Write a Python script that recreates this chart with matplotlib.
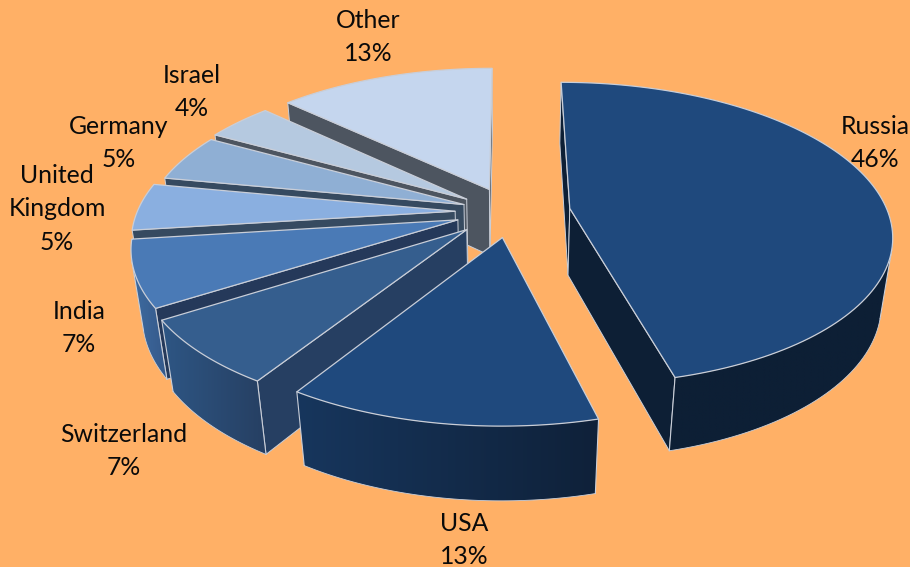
import numpy as np
import matplotlib
matplotlib.use("Agg")
import matplotlib.pyplot as plt
from matplotlib.colors import to_rgb
from matplotlib.patches import Polygon

# Share of the total per country, clockwise from twelve o'clock
countries = ["Russia", "USA", "Switzerland", "India", "United\nKingdom",
             "Germany", "Israel", "Other"]
shares = [46, 13, 7, 7, 5, 5, 4, 13]

# How far each slice is pulled out of the pie, as a fraction of the radius
explode = [0.195, 0.17, 0.165, 0.155, 0.165, 0.15, 0.15, 0.17]
# Extra sideways pull, same unit
drift = [0.0, 0.008, -0.012, -0.012, -0.003, 0.0, -0.012, 0.006]

top_colors = ["#1F497D", "#1F497D", "#355E8E", "#4A7AB6", "#8AAFE0",
              "#8FAFD4", "#B5C9E0", "#C5D6EE"]
cut_colors = ["#0D1F35", "#0F2139", "#263F62", "#25395A", "#364A60",
              "#364A60", "#4D5560", "#4D5560"]
rim_left = ["#0D1F35", "#17365D", "#2E5684", "#3E6BA0", "#5F83B0",
            "#6A87A8", "#8A9CB0", "#8A98A8"]
rim_right = ["#0D1F35", "#0F2139", "#263F62", "#35598A", "#5F83B0",
             "#6A87A8", "#8A9CB0", "#8A98A8"]

label_xy = [(875, 143), (464, 540), (124, 451), (79, 328), (57, 209),
            (119, 143), (192, 92), (368, 37)]

BACKGROUND = "#FFB066"
EDGE = "#C9CED8"

# Projection of the pie plane onto the canvas
CX, CY = 508.5, 212.0
SX, SY = 318.0, 148.0
TILT = 0.165
DEPTH = 69.0
SHRINK = 0.03


def project(u, v, d=0.0):
    """Perspective mapping: u to the right, v to the viewer, d below the top face."""
    w = 1.0 - TILT * v + SHRINK * d
    return np.column_stack([CX + SX * u / w, CY + (SY * v + DEPTH * d) / w])


def screen_area(points):
    x, y = points[:, 0], points[:, 1]
    return np.sum(x * np.roll(y, -1) - np.roll(x, -1) * y)


fig = plt.figure(figsize=(9.1, 5.67), dpi=100, facecolor=BACKGROUND)
ax = fig.add_axes([0, 0, 1, 1])

fractions = np.array(shares) / np.sum(shares)
ends = np.cumsum(fractions) * 2 * np.pi
starts = ends - fractions * 2 * np.pi


def draw_wall(corners, i, zorder):
    # A face wound negatively on screen looks towards the viewer
    if screen_area(corners) < 0:
        ax.add_patch(Polygon(corners, closed=True, facecolor=cut_colors[i],
                             edgecolor=EDGE, lw=0.7, zorder=zorder))


def draw_rim(arc_top, arc_low, i, zorder):
    facing = [screen_area(np.array([arc_top[k], arc_top[k + 1],
                                    arc_low[k + 1], arc_low[k]])) < 0
              for k in range(len(arc_top) - 1)]
    if not any(facing):
        return
    first = facing.index(True)
    last = len(facing) - facing[::-1].index(True) + 1
    top, low = arc_top[first:last], arc_low[first:last]
    outline = np.vstack([top, low[::-1]])

    # Horizontal shading, clipped to the visible rim
    left, right = outline[:, 0].min(), outline[:, 0].max()
    c_left, c_right = np.array(to_rgb(rim_left[i])), np.array(to_rgb(rim_right[i]))
    ramp = np.linspace(0, 1, 256)[None, :, None]
    shade = c_left + (c_right - c_left) * ramp
    image = ax.imshow(shade, extent=(left, right, outline[:, 1].max(), outline[:, 1].min()),
                      aspect="auto", interpolation="bilinear", zorder=zorder)
    image.set_clip_path(Polygon(outline, closed=True, transform=ax.transData))

    ax.plot(low[:, 0], low[:, 1], color=EDGE, lw=0.6, zorder=zorder)
    ax.plot([top[0, 0], low[0, 0]], [top[0, 1], low[0, 1]], color=EDGE, lw=0.8, zorder=zorder)
    ax.plot([top[-1, 0], low[-1, 0]], [top[-1, 1], low[-1, 1]], color=EDGE, lw=0.8, zorder=zorder)


def draw_slice(i, zorder):
    a0, a1 = starts[i], ends[i]
    mid = (a0 + a1) / 2
    ox = explode[i] * np.sin(mid) + drift[i]
    oy = -explode[i] * np.cos(mid)
    theta = np.linspace(a0, a1, 120)
    arc_u, arc_v = ox + np.sin(theta), oy - np.cos(theta)

    apex_top = project(np.array([ox]), np.array([oy]))
    apex_low = project(np.array([ox]), np.array([oy]), 1.0)
    arc_top = project(arc_u, arc_v)
    arc_low = project(arc_u, arc_v, 1.0)

    # Radial cut faces, then the rim, then the top
    draw_wall(np.vstack([apex_top, arc_top[0], arc_low[0], apex_low]), i, zorder)
    draw_wall(np.vstack([arc_top[-1], apex_top, apex_low, arc_low[-1]]), i, zorder)
    draw_rim(arc_top, arc_low, i, zorder)
    ax.add_patch(Polygon(np.vstack([apex_top, arc_top]), closed=True,
                         facecolor=top_colors[i], edgecolor=EDGE, lw=0.9,
                         joinstyle="round", zorder=zorder))


# Painted from the back of the pie towards the viewer
for order, idx in enumerate([7, 6, 5, 4, 3, 2, 1, 0]):
    draw_slice(idx, 2 + order)

for name, share, (x, y) in zip(countries, shares, label_xy):
    ax.text(x, y, f"{name}\n{share}%", ha="center", va="center", family="Lato",
            fontsize=17.8, color="#0A0A0A", linespacing=1.55, zorder=20)

ax.set_xlim(0, 910)
ax.set_ylim(567, 0)
ax.axis("off")

fig.savefig("out.png", dpi=100, facecolor=BACKGROUND)
